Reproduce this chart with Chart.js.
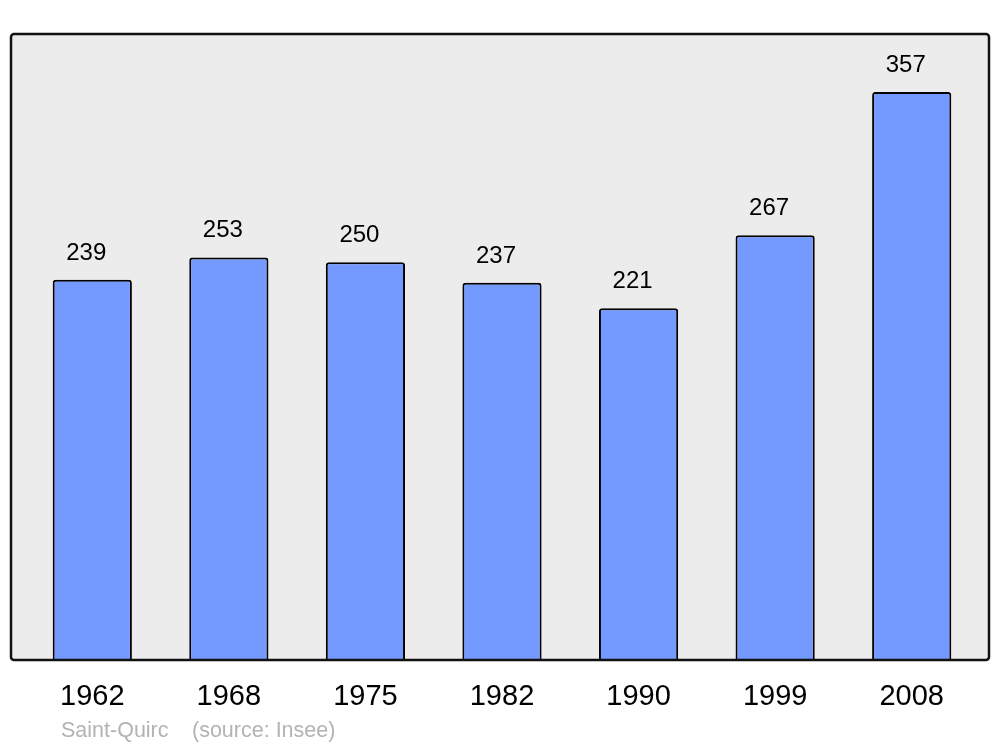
<!DOCTYPE html>
<html>
<head>
<meta charset="utf-8">
<script src="https://cdn.jsdelivr.net/npm/chart.js@4/dist/chart.umd.min.js"></script>
<style>
  html,body{margin:0;padding:0;background:#fff}
  #wrap{width:1000px;height:747px}
</style>
</head>
<body>
<div id="wrap"><canvas id="pop"></canvas></div>
<script>
var annees=["1962","1968","1975","1982","1990","1999","2008"]
var population=[239,253,250,237,221,267,357]
var commune="Saint-Quirc"
var source="(source: Insee)"

// fond gris + cadre
const cadre={
  id:"cadre",
  beforeDatasetsDraw(chart){
    const ctx=chart.ctx, a=chart.chartArea
    ctx.save()
    ctx.beginPath()
    ctx.roundRect(a.left-13,a.top,a.right-a.left+22,a.bottom-a.top,3)
    ctx.fillStyle="#ececec"
    ctx.fill()
    ctx.restore()
  },
  afterDatasetsDraw(chart){
    const ctx=chart.ctx, a=chart.chartArea
    ctx.save()
    ctx.beginPath()
    ctx.roundRect(a.left-13,a.top,a.right-a.left+22,a.bottom-a.top,3)
    ctx.lineWidth=2.5
    ctx.strokeStyle="#111"
    ctx.stroke()
    // valeurs au dessus des barres
    const meta=chart.getDatasetMeta(0)
    ctx.font="24px 'Liberation Sans', Arial, sans-serif"
    ctx.fillStyle="#000"
    ctx.textAlign="center"
    ctx.textBaseline="alphabetic"
    meta.data.forEach((bar,i)=>{
      ctx.fillText(String(population[i]),bar.x-6,bar.y-20)
    })
    // pied
    ctx.font="21.5px 'Liberation Sans', Arial, sans-serif"
    ctx.fillStyle="#b3b3b3"
    ctx.textAlign="left"
    ctx.fillText(commune,61,737)
    ctx.fillText(source,192,737)
    ctx.restore()
  }
}

const config={
  type:"bar",
  data:{
    labels:annees,
    datasets:[{
      data:population,
      backgroundColor:"#7499ff",
      borderColor:"#000",
      borderWidth:2,
      borderSkipped:"start",
      borderRadius:{topLeft:3,topRight:3,bottomLeft:0,bottomRight:0},
      categoryPercentage:1,
      barPercentage:0.58
    }]
  },
  options:{
    responsive:false,
    animation:false,
    devicePixelRatio:1,
    layout:{padding:{left:24,right:20,top:34,bottom:0}},
    plugins:{legend:{display:false},tooltip:{enabled:false}},
    scales:{
      x:{
        offset:true,
        grid:{display:false},
        border:{display:false},
        ticks:{
          color:"#000",
          padding:12,
          font:{family:"'Liberation Sans', Arial, sans-serif",size:29}
        },
        afterFit(s){ s.height=87 }
      },
      y:{
        display:false,
        min:0,
        max:393.4
      }
    }
  },
  plugins:[cadre]
}

const zone=document.getElementById("pop")
zone.width=1000
zone.height=747
const graphe=new Chart(zone,config)
</script>
</body>
</html>
